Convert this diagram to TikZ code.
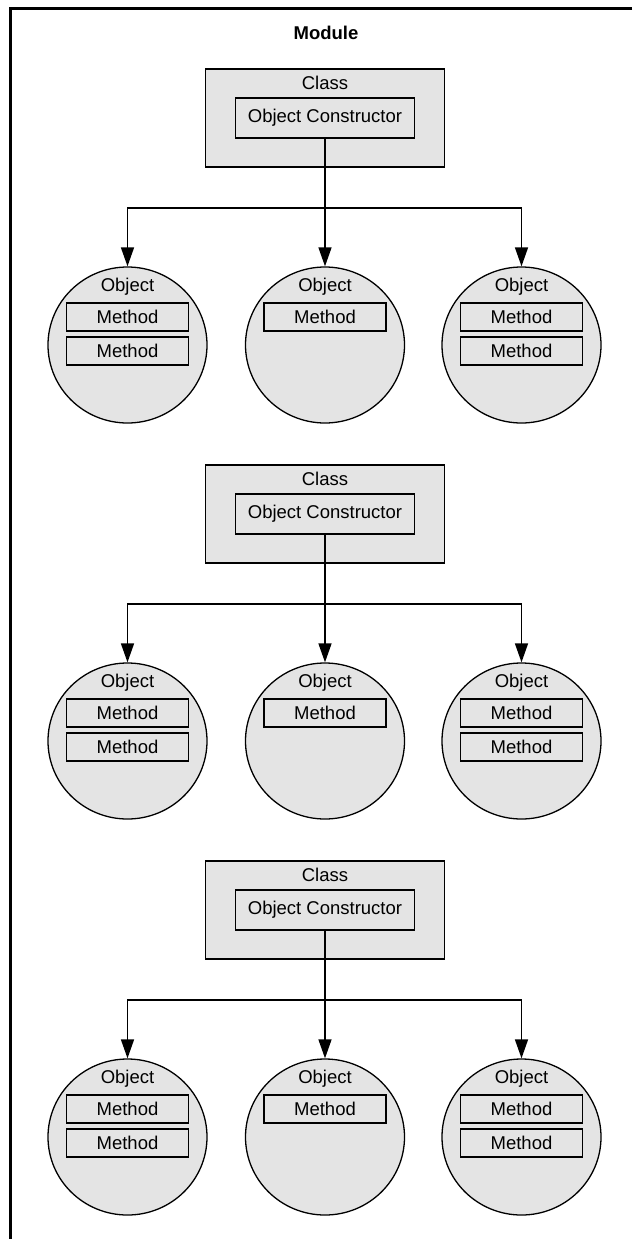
\documentclass[tikz,border=0pt]{standalone}
\usepackage{fontspec}
\setmainfont{Liberation Sans}
\usetikzlibrary{arrows.meta,positioning,shapes.geometric}
\definecolor{boxfill}{HTML}{E4E4E4}
\tikzset{>={Triangle[length=19pt,width=13pt]},
  every node/.style={font=\fontsize{18.5}{20}\selectfont},
  classbox/.style={draw,fill=boxfill,line width=1.6pt,minimum width=239pt,minimum height=98pt,inner sep=0pt},
  ctorbox/.style={draw,fill=boxfill,line width=1.6pt,minimum width=179pt,minimum height=40pt,inner sep=0pt},
  objnode/.style={ellipse,draw,fill=boxfill,line width=1.3pt,minimum width=159pt,minimum height=156pt,inner sep=0pt},
  methodbox/.style={draw,fill=boxfill,line width=1.6pt,minimum width=122pt,minimum height=28pt,inner sep=0pt},
  link/.style={line width=1.5pt}}

\begin{document}
\begin{tikzpicture}[x=1pt,y=-1pt]
\useasboundingbox (0,0) rectangle (632,1239);
% module frame (right and bottom edges fall outside)
\draw[line width=2.6pt] (632,8.5) -| (10.5,1239);
\node[font=\fontsize{18.5}{20}\selectfont\bfseries] (module) at (326,33) {Module};
\foreach \g/\dy in {1/0,2/396,3/792}{
  \node[classbox] (cls\g) at (325,118+\dy) {};
  \node (clst\g) at (325,83+\dy) {Class};
  \node[ctorbox] (ctor\g) at (325,118+\dy) {Object Constructor};
  \coordinate (fork\g) at (325,208+\dy);
  \draw[link] (ctor\g.south) -- (fork\g);
  \foreach \k/\x/\n in {a/127.5/2,b/325/1,c/521.5/2}{
    \node[objnode] (obj\g\k) at (\x,345+\dy) {};
    \node (objt\g\k) at (\x,287+\dy) {Object};
    \node[methodbox] (meth\g\k1) at (\x,317+\dy) {Method};
    \ifnum\n=2 \node[methodbox] (meth\g\k2) at (\x,351+\dy) {Method};\fi
    \draw[link,->] (fork\g) -| (obj\g\k.north);
  }
}
\end{tikzpicture}
\end{document}
